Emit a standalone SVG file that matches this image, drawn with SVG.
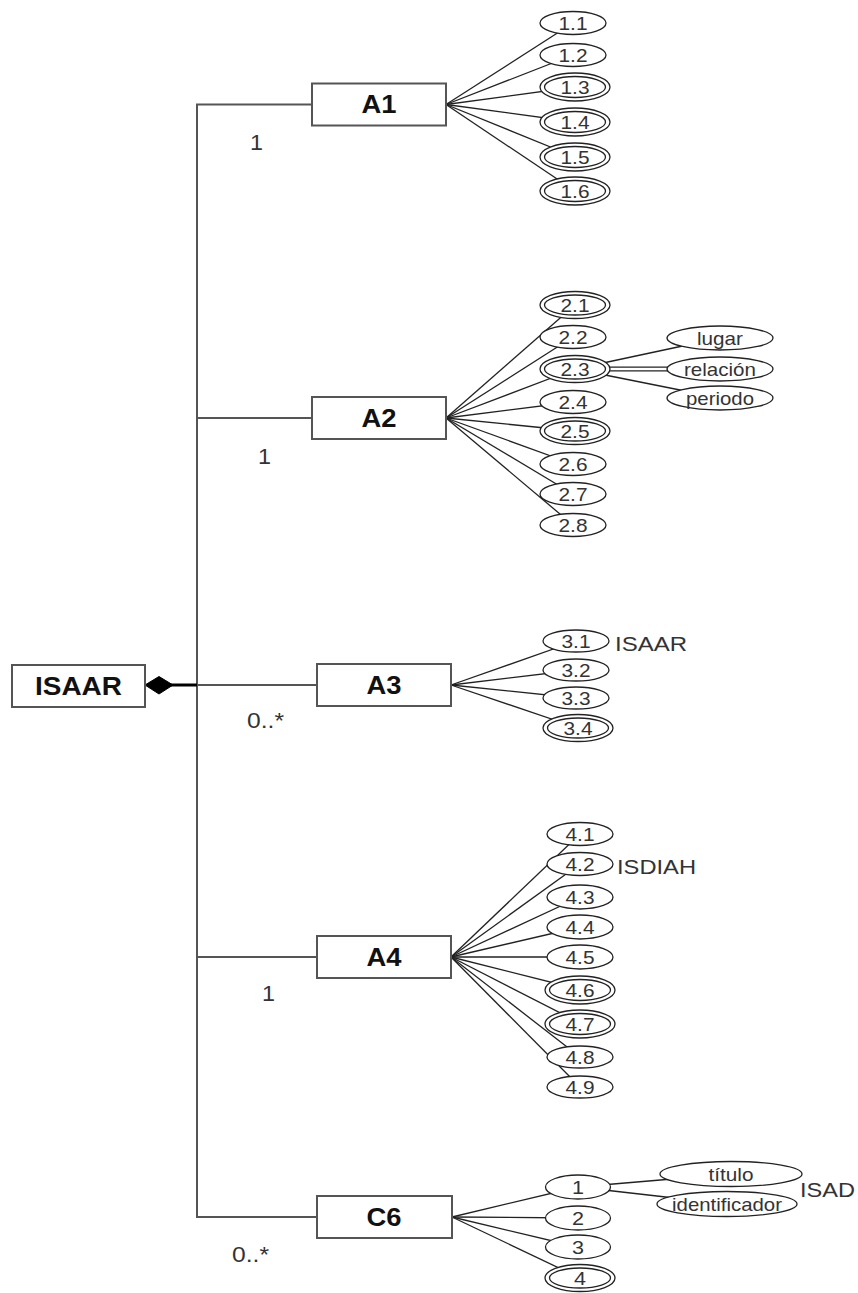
<svg xmlns="http://www.w3.org/2000/svg" width="858" height="1293" viewBox="0 0 858 1293">
<defs>
<style>
.box{fill:#fff;stroke:#555;stroke-width:2}
.bt{font-family:"Liberation Sans",Arial,sans-serif;font-weight:bold;font-size:25px;fill:#111;text-anchor:middle}
.el{fill:#fff;stroke:#222;stroke-width:1.3}
.et{font-family:"Liberation Sans",Arial,sans-serif;font-size:19px;fill:#333;text-anchor:middle}
.trunk{fill:none;stroke:#555;stroke-width:2}
.fan{stroke:#222;stroke-width:1.3;fill:none}
.ml{font-family:"Liberation Sans",Arial,sans-serif;font-size:22px;fill:#333}
.sl{font-family:"Liberation Sans",Arial,sans-serif;font-size:21px;fill:#333}
</style>
</defs>
<rect width="858" height="1293" fill="#fff"/>
<g id="connectors">
<polyline class="trunk" points="173,685 197,685 197,104.5 312,104.5"/>
<polyline class="trunk" points="173,685 197,685 197,418 312,418"/>
<polyline class="trunk" points="173,685 317,685"/>
<polyline class="trunk" points="173,685 197,685 197,957 317,957"/>
<polyline class="trunk" points="173,685 197,685 197,1217 317,1217"/>
<line x1="170" y1="685" x2="197" y2="685" stroke="#000" stroke-width="3"/>
<polygon points="145,685 159,676.5 173,685 159,694" fill="#000" stroke="#000" stroke-width="1"/>
<g class="fan">
<line x1="446" y1="104.5" x2="573" y2="23"/>
<line x1="446" y1="104.5" x2="573" y2="55"/>
<line x1="446" y1="104.5" x2="575" y2="87"/>
<line x1="446" y1="104.5" x2="575" y2="122"/>
<line x1="446" y1="104.5" x2="575" y2="157"/>
<line x1="446" y1="104.5" x2="575" y2="191"/>
<line x1="446" y1="418" x2="575" y2="305"/>
<line x1="446" y1="418" x2="573" y2="337"/>
<line x1="446" y1="418" x2="575" y2="369"/>
<line x1="446" y1="418" x2="573" y2="402"/>
<line x1="446" y1="418" x2="575" y2="431"/>
<line x1="446" y1="418" x2="573" y2="464"/>
<line x1="446" y1="418" x2="573" y2="494"/>
<line x1="446" y1="418" x2="573" y2="525"/>
<line x1="575" y1="369" x2="720" y2="338"/>
<line x1="575" y1="367.2" x2="720" y2="367.2"/>
<line x1="575" y1="370.8" x2="720" y2="370.8"/>
<line x1="575" y1="369" x2="720" y2="398"/>
<line x1="451" y1="685" x2="576" y2="641"/>
<line x1="451" y1="685" x2="576" y2="670"/>
<line x1="451" y1="685" x2="576" y2="698"/>
<line x1="451" y1="685" x2="578" y2="728"/>
<line x1="451" y1="957" x2="580" y2="834"/>
<line x1="451" y1="957" x2="580" y2="864"/>
<line x1="451" y1="957" x2="580" y2="897"/>
<line x1="451" y1="957" x2="580" y2="927"/>
<line x1="451" y1="957" x2="580" y2="957"/>
<line x1="451" y1="957" x2="582" y2="990"/>
<line x1="451" y1="957" x2="582" y2="1024"/>
<line x1="451" y1="957" x2="580" y2="1057"/>
<line x1="451" y1="957" x2="580" y2="1087"/>
<line x1="452" y1="1217" x2="578" y2="1187"/>
<line x1="452" y1="1217" x2="578" y2="1218"/>
<line x1="452" y1="1217" x2="578" y2="1247"/>
<line x1="452" y1="1217" x2="580" y2="1278"/>
<line x1="578" y1="1187" x2="731" y2="1174"/>
<line x1="578" y1="1187" x2="727" y2="1204"/>
</g>
<text class="ml" x="250" y="150" textLength="13" lengthAdjust="spacingAndGlyphs">1</text>
<text class="ml" x="258" y="464" textLength="13" lengthAdjust="spacingAndGlyphs">1</text>
<text class="ml" x="247" y="728" textLength="37" lengthAdjust="spacingAndGlyphs">0..*</text>
<text class="ml" x="262" y="1001" textLength="13" lengthAdjust="spacingAndGlyphs">1</text>
<text class="ml" x="232" y="1262" textLength="37" lengthAdjust="spacingAndGlyphs">0..*</text>
</g>
<g id="ISAAR"><rect class="box" x="12" y="665" width="133" height="42"/><text class="bt" x="78.5" y="694.5" textLength="87" lengthAdjust="spacingAndGlyphs">ISAAR</text></g>
<g id="A1"><rect class="box" x="312" y="83.5" width="134" height="42"/><text class="bt" x="379" y="113" textLength="35" lengthAdjust="spacingAndGlyphs">A1</text></g>
<g id="A2"><rect class="box" x="312" y="397" width="134" height="42"/><text class="bt" x="379" y="426.5" textLength="35" lengthAdjust="spacingAndGlyphs">A2</text></g>
<g id="A3"><rect class="box" x="317" y="664" width="134" height="42"/><text class="bt" x="384" y="693.5" textLength="35" lengthAdjust="spacingAndGlyphs">A3</text></g>
<g id="A4"><rect class="box" x="317" y="936" width="134" height="42"/><text class="bt" x="384" y="965.5" textLength="35" lengthAdjust="spacingAndGlyphs">A4</text></g>
<g id="C6"><rect class="box" x="317" y="1196" width="135" height="42"/><text class="bt" x="384" y="1225.5" textLength="35" lengthAdjust="spacingAndGlyphs">C6</text></g>

<g id="e1-1"><ellipse class="el" cx="573" cy="23" rx="33" ry="11.5"/><text class="et" x="573" y="30" textLength="29" lengthAdjust="spacingAndGlyphs">1.1</text></g>
<g id="e1-2"><ellipse class="el" cx="573" cy="55" rx="33" ry="11.5"/><text class="et" x="573" y="62" textLength="29" lengthAdjust="spacingAndGlyphs">1.2</text></g>
<g id="e1-3"><ellipse class="el" cx="575" cy="87" rx="35" ry="14"/><ellipse class="el" cx="575" cy="87" rx="30.5" ry="10.5"/><text class="et" x="575" y="94" textLength="29" lengthAdjust="spacingAndGlyphs">1.3</text></g>
<g id="e1-4"><ellipse class="el" cx="575" cy="122" rx="35" ry="14"/><ellipse class="el" cx="575" cy="122" rx="30.5" ry="10.5"/><text class="et" x="575" y="129" textLength="29" lengthAdjust="spacingAndGlyphs">1.4</text></g>
<g id="e1-5"><ellipse class="el" cx="575" cy="157" rx="35" ry="14"/><ellipse class="el" cx="575" cy="157" rx="30.5" ry="10.5"/><text class="et" x="575" y="164" textLength="29" lengthAdjust="spacingAndGlyphs">1.5</text></g>
<g id="e1-6"><ellipse class="el" cx="575" cy="191" rx="35" ry="14"/><ellipse class="el" cx="575" cy="191" rx="30.5" ry="10.5"/><text class="et" x="575" y="198" textLength="29" lengthAdjust="spacingAndGlyphs">1.6</text></g>

<g id="e2-1"><ellipse class="el" cx="575" cy="305" rx="35" ry="13.5"/><ellipse class="el" cx="575" cy="305" rx="30.5" ry="10"/><text class="et" x="575" y="312" textLength="29" lengthAdjust="spacingAndGlyphs">2.1</text></g>
<g id="e2-2"><ellipse class="el" cx="573" cy="337" rx="33" ry="11.5"/><text class="et" x="573" y="344" textLength="29" lengthAdjust="spacingAndGlyphs">2.2</text></g>
<g id="e2-3"><ellipse class="el" cx="575" cy="369" rx="35" ry="13.5"/><ellipse class="el" cx="575" cy="369" rx="30.5" ry="10"/><text class="et" x="575" y="376" textLength="29" lengthAdjust="spacingAndGlyphs">2.3</text></g>
<g id="e2-4"><ellipse class="el" cx="573" cy="402" rx="33" ry="11.5"/><text class="et" x="573" y="409" textLength="29" lengthAdjust="spacingAndGlyphs">2.4</text></g>
<g id="e2-5"><ellipse class="el" cx="575" cy="431" rx="35" ry="13.5"/><ellipse class="el" cx="575" cy="431" rx="30.5" ry="10"/><text class="et" x="575" y="438" textLength="29" lengthAdjust="spacingAndGlyphs">2.5</text></g>
<g id="e2-6"><ellipse class="el" cx="573" cy="464" rx="33" ry="11.5"/><text class="et" x="573" y="471" textLength="29" lengthAdjust="spacingAndGlyphs">2.6</text></g>
<g id="e2-7"><ellipse class="el" cx="573" cy="494" rx="33" ry="11.5"/><text class="et" x="573" y="501" textLength="29" lengthAdjust="spacingAndGlyphs">2.7</text></g>
<g id="e2-8"><ellipse class="el" cx="573" cy="525" rx="33" ry="11.5"/><text class="et" x="573" y="532" textLength="29" lengthAdjust="spacingAndGlyphs">2.8</text></g>
<g id="lugar"><ellipse class="el" cx="720" cy="338" rx="53" ry="12"/><text class="et" x="720" y="345" textLength="46" lengthAdjust="spacingAndGlyphs">lugar</text></g>
<g id="relacion"><ellipse class="el" cx="720" cy="369" rx="53" ry="12"/><text class="et" x="720" y="376" textLength="72" lengthAdjust="spacingAndGlyphs">relación</text></g>
<g id="periodo"><ellipse class="el" cx="720" cy="398" rx="53" ry="12"/><text class="et" x="720" y="405" textLength="68" lengthAdjust="spacingAndGlyphs">periodo</text></g>

<g id="e3-1"><ellipse class="el" cx="576" cy="641" rx="33" ry="11"/><text class="et" x="576" y="648" textLength="29" lengthAdjust="spacingAndGlyphs">3.1</text></g>
<g id="e3-2"><ellipse class="el" cx="576" cy="670" rx="33" ry="11"/><text class="et" x="576" y="677" textLength="29" lengthAdjust="spacingAndGlyphs">3.2</text></g>
<g id="e3-3"><ellipse class="el" cx="576" cy="698" rx="33" ry="11"/><text class="et" x="576" y="705" textLength="29" lengthAdjust="spacingAndGlyphs">3.3</text></g>
<g id="e3-4"><ellipse class="el" cx="578" cy="728" rx="35" ry="13.5"/><ellipse class="el" cx="578" cy="728" rx="30.5" ry="10"/><text class="et" x="578" y="735" textLength="29" lengthAdjust="spacingAndGlyphs">3.4</text></g>

<g id="e4-1"><ellipse class="el" cx="580" cy="834" rx="33" ry="11.5"/><text class="et" x="580" y="841" textLength="29" lengthAdjust="spacingAndGlyphs">4.1</text></g>
<g id="e4-2"><ellipse class="el" cx="580" cy="864" rx="33" ry="11.5"/><text class="et" x="580" y="871" textLength="29" lengthAdjust="spacingAndGlyphs">4.2</text></g>
<g id="e4-3"><ellipse class="el" cx="580" cy="897" rx="33" ry="12"/><text class="et" x="580" y="904" textLength="29" lengthAdjust="spacingAndGlyphs">4.3</text></g>
<g id="e4-4"><ellipse class="el" cx="580" cy="927" rx="33" ry="12"/><text class="et" x="580" y="934" textLength="29" lengthAdjust="spacingAndGlyphs">4.4</text></g>
<g id="e4-5"><ellipse class="el" cx="580" cy="957" rx="33" ry="12"/><text class="et" x="580" y="964" textLength="29" lengthAdjust="spacingAndGlyphs">4.5</text></g>
<g id="e4-6"><ellipse class="el" cx="580" cy="990" rx="35" ry="14"/><ellipse class="el" cx="580" cy="990" rx="30.5" ry="10.5"/><text class="et" x="580" y="997" textLength="29" lengthAdjust="spacingAndGlyphs">4.6</text></g>
<g id="e4-7"><ellipse class="el" cx="580" cy="1024" rx="35" ry="14"/><ellipse class="el" cx="580" cy="1024" rx="30.5" ry="10.5"/><text class="et" x="580" y="1031" textLength="29" lengthAdjust="spacingAndGlyphs">4.7</text></g>
<g id="e4-8"><ellipse class="el" cx="580" cy="1057" rx="33" ry="11"/><text class="et" x="580" y="1064" textLength="29" lengthAdjust="spacingAndGlyphs">4.8</text></g>
<g id="e4-9"><ellipse class="el" cx="580" cy="1087" rx="33" ry="11"/><text class="et" x="580" y="1094" textLength="29" lengthAdjust="spacingAndGlyphs">4.9</text></g>

<g id="c6-1"><ellipse class="el" cx="578" cy="1187" rx="32.5" ry="12"/><text class="et" x="578" y="1194" textLength="12" lengthAdjust="spacingAndGlyphs">1</text></g>
<g id="c6-2"><ellipse class="el" cx="578" cy="1218" rx="32.5" ry="12"/><text class="et" x="578" y="1225" textLength="12" lengthAdjust="spacingAndGlyphs">2</text></g>
<g id="c6-3"><ellipse class="el" cx="578" cy="1247" rx="32.5" ry="12"/><text class="et" x="578" y="1254" textLength="12" lengthAdjust="spacingAndGlyphs">3</text></g>
<g id="c6-4"><ellipse class="el" cx="580" cy="1278" rx="35" ry="13.5"/><ellipse class="el" cx="580" cy="1278" rx="30.5" ry="10"/><text class="et" x="580" y="1285" textLength="12" lengthAdjust="spacingAndGlyphs">4</text></g>
<g id="titulo"><ellipse class="el" cx="731" cy="1174" rx="71" ry="12.5"/><text class="et" x="731" y="1181" textLength="45" lengthAdjust="spacingAndGlyphs">título</text></g>
<g id="identificador"><ellipse class="el" cx="727" cy="1204" rx="70" ry="12.5"/><text class="et" x="727" y="1211" textLength="110" lengthAdjust="spacingAndGlyphs">identificador</text></g>

<g id="labels">
<text class="sl" x="615" y="651" textLength="72" lengthAdjust="spacingAndGlyphs">ISAAR</text>
<text class="sl" x="617" y="874" textLength="79" lengthAdjust="spacingAndGlyphs">ISDIAH</text>
<text class="sl" x="800" y="1197" textLength="55" lengthAdjust="spacingAndGlyphs">ISAD</text>
</g>
</svg>
